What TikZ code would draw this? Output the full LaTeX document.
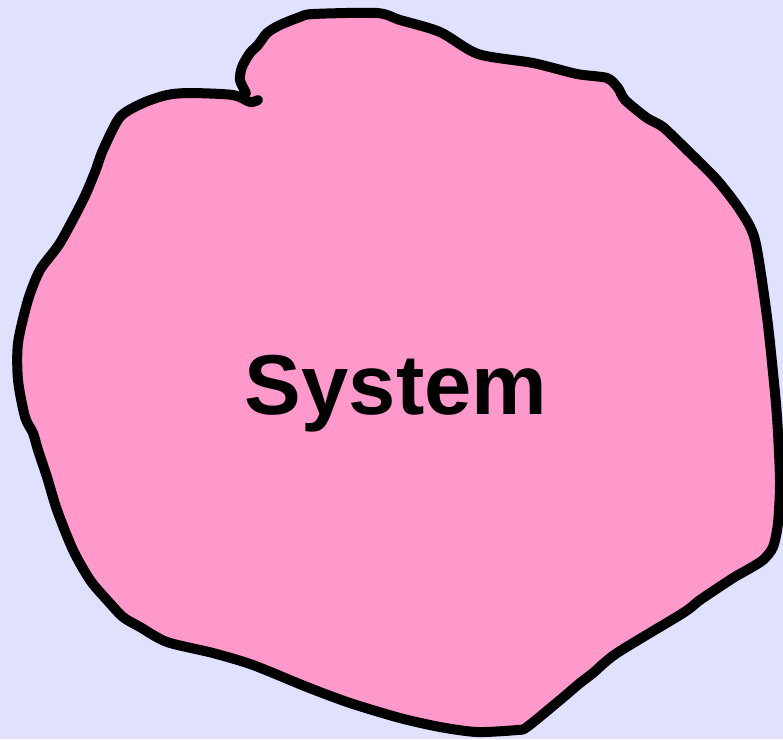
\documentclass[tikz,border=0pt]{standalone}
\usepackage{fontspec}
\setsansfont{Liberation Sans}
\usepackage{tikz}
\definecolor{bglav}{HTML}{E0E0FF}
\definecolor{blobpink}{HTML}{FF99CC}
\tikzset{
  blobfill/.style={fill=blobpink},
  blobline/.style={draw=black,line width=10pt,line cap=round,line join=round},
  sysname/.style={font=\sffamily\bfseries\fontsize{85}{85}\selectfont,inner sep=0pt,anchor=base},
}

\begin{document}
\begin{tikzpicture}[x=1pt,y=-1pt]
  \fill[bglav] (0,0) rectangle (783,739);
  \useasboundingbox (0,0) rectangle (783,739);
  % pink blob
  \path[blobfill] plot[smooth cycle,tension=0.45] coordinates {(246,93) (240,80) (242,67) (250,53) (258,45) (267,33) (280,25) (300,17) (313,14) (377,13) (400,20) (440,32) (478,54) (533,63) (577,74) (607,78) (618,88) (625,100) (647,118) (663,127) (687,150) (717,180) (740,210) (755,240) (767,317) (775,393) (778,433) (780,483) (778,523) (773,547) (763,560) (747,570) (733,578) (700,600) (683,613) (617,653) (593,673) (580,683) (560,700) (527,727) (517,730) (477,732) (440,727) (400,718) (350,703) (307,687) (253,665) (213,653) (167,642) (140,627) (123,617) (107,600) (90,580) (73,550) (57,510) (47,477) (38,450) (33,433) (25,417) (18,380) (18,343) (28,300) (40,270) (60,243) (83,200) (95,172) (103,150) (120,117) (143,103) (167,95) (190,93) (233,95) (250,102) (258,100)};
  \path[blobline] plot[smooth,tension=0.45] coordinates {(246,93) (240,80) (242,67) (250,53) (258,45) (267,33) (280,25) (300,17) (313,14) (377,13) (400,20) (440,32) (478,54) (533,63) (577,74) (607,78) (618,88) (625,100) (647,118) (663,127) (687,150) (717,180) (740,210) (755,240) (767,317) (775,393) (778,433) (780,483) (778,523) (773,547) (763,560) (747,570) (733,578) (700,600) (683,613) (617,653) (593,673) (580,683) (560,700) (527,727) (517,730) (477,732) (440,727) (400,718) (350,703) (307,687) (253,665) (213,653) (167,642) (140,627) (123,617) (107,600) (90,580) (73,550) (57,510) (47,477) (38,450) (33,433) (25,417) (18,380) (18,343) (28,300) (40,270) (60,243) (83,200) (95,172) (103,150) (120,117) (143,103) (167,95) (190,93) (233,95) (250,102) (258,100)};
  \node[sysname] (sys) at (396,414) {System};
\end{tikzpicture}
\end{document}
